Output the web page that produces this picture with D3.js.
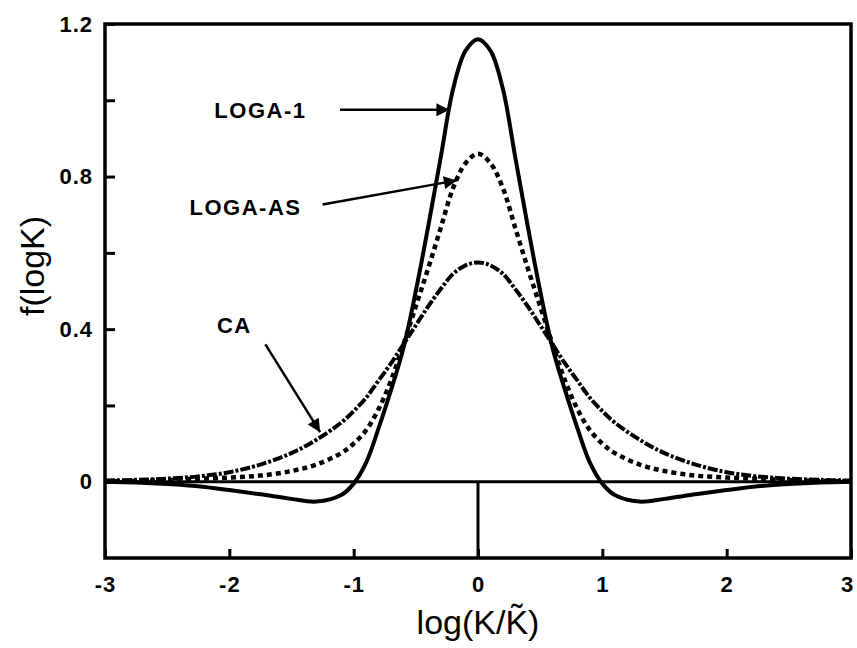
<!DOCTYPE html>
<html>
<head>
<meta charset="utf-8">
<script src="https://cdn.jsdelivr.net/npm/d3@7"></script>
<style>
  body { margin: 0; background: #fff; }
  text { font-family: "Liberation Sans", Arial, Helvetica, sans-serif; fill: #000; }
  .tick-label { font-size: 22px; font-weight: bold; letter-spacing: 1px; }
  .note { font-size: 22px; font-weight: bold; letter-spacing: 1.5px; }
</style>
</head>
<body>
<div id="chart"></div>
<script>
// data
var xValues = [-3, -2.75, -2.5, -2.25, -2, -1.75, -1.5, -1.3, -1.1, -1.0, -0.9, -0.8, -0.7, -0.6, -0.5, -0.4, -0.3, -0.2, -0.1, 0,
  0.1, 0.2, 0.3, 0.4, 0.5, 0.6, 0.7, 0.8, 0.9, 1.0, 1.1, 1.3, 1.5, 1.75, 2, 2.25, 2.5, 2.75, 3];

var loga1 = [0, -0.002, -0.006, -0.012, -0.022, -0.033, -0.045, -0.052, -0.035, -0.005, 0.05, 0.14, 0.24, 0.35, 0.5, 0.67, 0.85, 1.03, 1.13, 1.16,
  1.13, 1.03, 0.85, 0.67, 0.5, 0.35, 0.24, 0.14, 0.05, -0.005, -0.035, -0.052, -0.045, -0.033, -0.022, -0.012, -0.006, -0.002, 0];

var logaAS = [0.001, 0.002, 0.004, 0.008, 0.011, 0.016, 0.028, 0.045, 0.075, 0.1, 0.135, 0.19, 0.265, 0.36, 0.46, 0.56, 0.665, 0.77, 0.835, 0.86,
  0.835, 0.77, 0.665, 0.56, 0.46, 0.36, 0.265, 0.19, 0.135, 0.1, 0.075, 0.045, 0.028, 0.016, 0.011, 0.008, 0.004, 0.002, 0.001];

var caValues = [0.003, 0.005, 0.008, 0.014, 0.025, 0.045, 0.075, 0.11, 0.155, 0.185, 0.22, 0.265, 0.31, 0.36, 0.41, 0.46, 0.505, 0.545, 0.567, 0.575,
  0.567, 0.545, 0.505, 0.46, 0.41, 0.36, 0.31, 0.265, 0.22, 0.185, 0.155, 0.11, 0.075, 0.045, 0.025, 0.014, 0.008, 0.005, 0.003];

var xTicks = [-3, -2, -1, 0, 1, 2, 3];
var yMajorTicks = [0, 0.4, 0.8, 1.2];
var yMinorTicks = [0.2, 0.6, 1.0];

// annotations: label, text position, arrow start, arrow tip (data units)
var notes = [
  { label: "LOGA-1", tx: -1.75, ty: 0.975, x1: -1.11, y1: 0.975, x2: -0.23, y2: 0.975 },
  { label: "LOGA-AS", tx: -1.87, ty: 0.72, x1: -1.25, y1: 0.727, x2: -0.17, y2: 0.79 },
  { label: "CA", tx: -1.96, ty: 0.41, x1: -1.71, y1: 0.36, x2: -1.27, y2: 0.13 }
];

// svg area
var svgWidth = 857;
var svgHeight = 648;

var margin = { top: 24, right: 6, bottom: 90, left: 105 };
var width = svgWidth - margin.left - margin.right;
var height = svgHeight - margin.top - margin.bottom;

var svg = d3.select("#chart")
  .append("svg")
  .attr("width", svgWidth)
  .attr("height", svgHeight);

var chartGroup = svg.append("g")
  .attr("transform", `translate(${margin.left}, ${margin.top})`);

var xScale = d3.scaleLinear().domain([-3, 3]).range([0, width]);
var yScale = d3.scaleLinear().domain([-0.2, 1.2]).range([height, 0]);

// arrow head
svg.append("defs").append("marker")
  .attr("id", "head")
  .attr("viewBox", "0 0 10 10")
  .attr("refX", 10)
  .attr("refY", 5)
  .attr("markerWidth", 22)
  .attr("markerHeight", 13)
  .attr("markerUnits", "userSpaceOnUse")
  .attr("orient", "auto")
  .append("path")
  .attr("d", "M0,0 L10,5 L0,10 Z")
  .attr("fill", "#000");

// zero line and centre line
chartGroup.append("line")
  .attr("x1", 0).attr("x2", width)
  .attr("y1", yScale(0)).attr("y2", yScale(0))
  .attr("stroke", "#000").attr("stroke-width", 3);

chartGroup.append("line")
  .attr("x1", xScale(0)).attr("x2", xScale(0))
  .attr("y1", yScale(0)).attr("y2", height)
  .attr("stroke", "#000").attr("stroke-width", 3);

// curves
var line = d3.line()
  .x((d, i) => xScale(xValues[i]))
  .y(d => yScale(d))
  .curve(d3.curveCatmullRom);

chartGroup.append("path")
  .datum(caValues)
  .attr("d", line)
  .attr("fill", "none")
  .attr("stroke", "#000")
  .attr("stroke-width", 4)
  .attr("stroke-dasharray", "10,2,3,2");

chartGroup.append("path")
  .datum(logaAS)
  .attr("d", line)
  .attr("fill", "none")
  .attr("stroke", "#000")
  .attr("stroke-width", 4.5)
  .attr("stroke-dasharray", "5,4");

chartGroup.append("path")
  .datum(loga1)
  .attr("d", line)
  .attr("fill", "none")
  .attr("stroke", "#000")
  .attr("stroke-width", 4);

// axes with inward ticks
var bottomAxis = d3.axisBottom(xScale).tickValues(xTicks).tickSize(-9).tickPadding(18).tickFormat(d => String(d));
var leftAxis = d3.axisLeft(yScale).tickValues(yMajorTicks).tickSize(-10).tickPadding(12).tickFormat(d => d === 0 ? "0" : d3.format(".1f")(d));
var leftMinor = d3.axisLeft(yScale).tickValues(yMinorTicks).tickSize(-10).tickFormat("");

var xAxis = chartGroup.append("g")
  .attr("transform", `translate(0, ${height})`)
  .call(bottomAxis);

var yAxis = chartGroup.append("g").call(leftAxis);
var yMinor = chartGroup.append("g").call(leftMinor);

[xAxis, yAxis, yMinor].forEach(function(g) {
  g.select(".domain").remove();
  g.selectAll(".tick line").attr("stroke", "#000").attr("stroke-width", 3);
  g.selectAll(".tick text").attr("class", "tick-label").attr("fill", "#000");
});

// keep the last x label inside the page
xAxis.selectAll(".tick text")
  .filter(d => d === 3)
  .attr("dx", -4);

// frame
chartGroup.append("rect")
  .attr("width", width)
  .attr("height", height)
  .attr("fill", "none")
  .attr("stroke", "#000")
  .attr("stroke-width", 3.5);

// annotations
notes.forEach(function(n) {
  chartGroup.append("text")
    .attr("class", "note")
    .attr("x", xScale(n.tx))
    .attr("y", yScale(n.ty))
    .attr("dy", "0.35em")
    .attr("text-anchor", "middle")
    .text(n.label);

  chartGroup.append("line")
    .attr("x1", xScale(n.x1)).attr("y1", yScale(n.y1))
    .attr("x2", xScale(n.x2)).attr("y2", yScale(n.y2))
    .attr("stroke", "#000")
    .attr("stroke-width", 2.5)
    .attr("marker-end", "url(#head)");
});

// axis titles
svg.append("text")
  .attr("x", margin.left + xScale(0))
  .attr("y", 634)
  .attr("text-anchor", "middle")
  .style("font-size", "34px")
  .text("log(K/K\u0303)");

svg.append("text")
  .attr("transform", "translate(44, 266) rotate(-90)")
  .attr("text-anchor", "middle")
  .style("font-size", "34px")
  .text("f(logK)");
</script>
</body>
</html>
